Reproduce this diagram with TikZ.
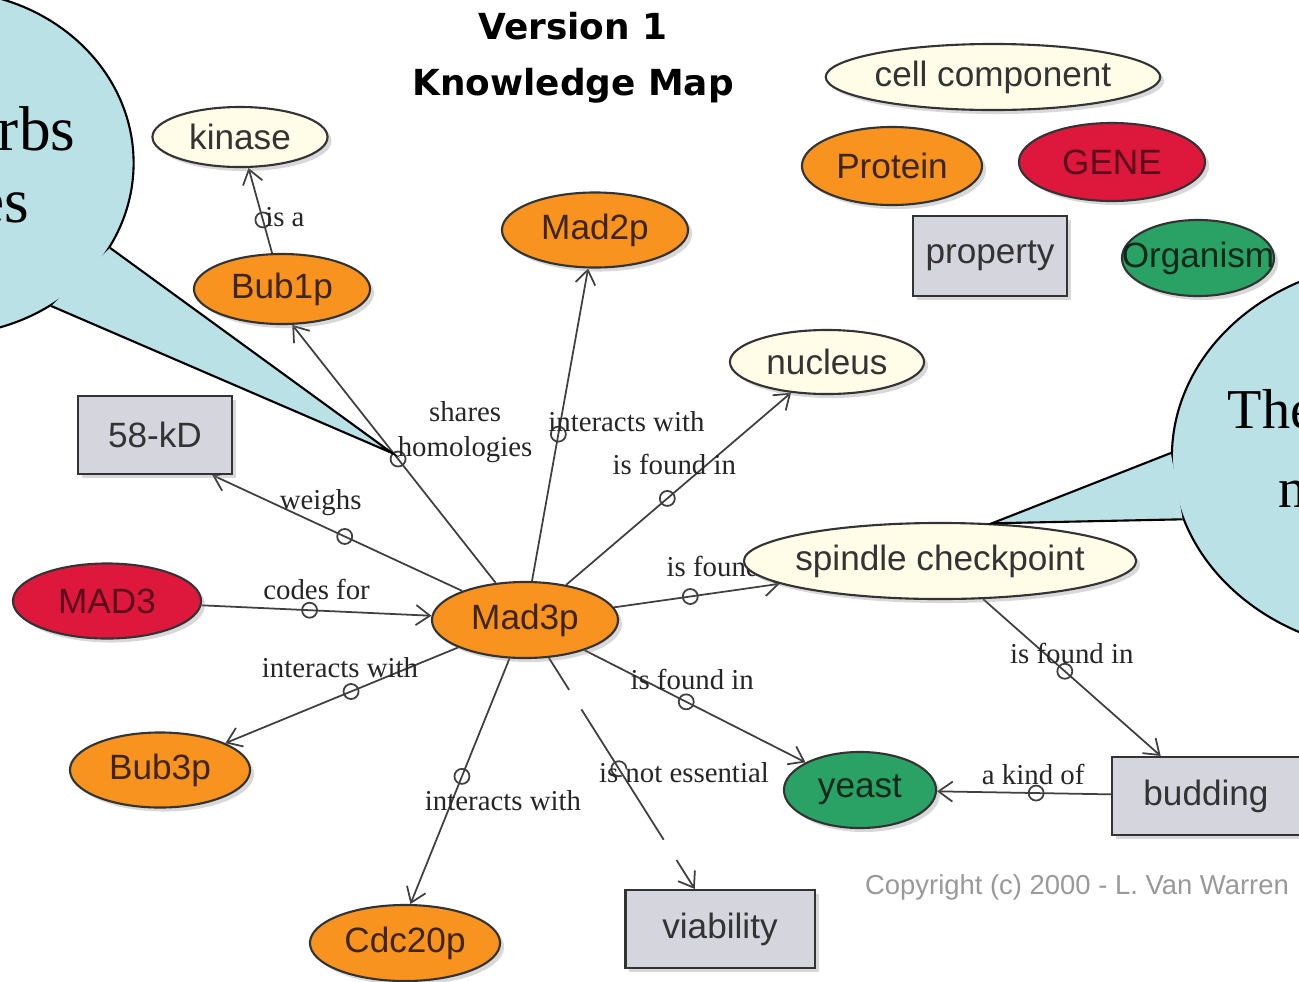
\documentclass[tikz,border=0pt]{standalone}
\usepackage{fontspec}
\setmainfont{Liberation Serif}
\setsansfont{Liberation Sans}
\newfontfamily\titlefont{DejaVu Sans}
\usetikzlibrary{positioning,shapes.geometric,shadows,arrows.meta}

\definecolor{protfill}{RGB}{247,147,30}
\definecolor{genefill}{RGB}{222,24,60}
\definecolor{orgfill}{RGB}{42,162,102}
\definecolor{compfill}{RGB}{255,253,232}
\definecolor{propfill}{RGB}{213,213,221}
\definecolor{notefill}{RGB}{186,225,229}

\pgfdeclarelayer{links}
\pgfdeclarelayer{notes}
\pgfsetlayers{links,main,notes}

\begin{document}
\begin{tikzpicture}[
  x=0.01cm, y=-0.01cm,
  concept/.style={draw=black!80, line width=0.6pt, inner sep=0pt, font=\sffamily\fontsize{10}{12}\selectfont,
    drop shadow={shadow xshift=0.04cm, shadow yshift=-0.04cm, opacity=0.3}},
  protein/.style={concept, ellipse, fill=protfill, text=protfill!25!black},
  gene/.style={concept, ellipse, fill=genefill, text=genefill!40!black},
  organism/.style={concept, ellipse, fill=orgfill, text=orgfill!25!black},
  component/.style={concept, ellipse, fill=compfill, text=black!80},
  property/.style={concept, rectangle, fill=propfill, text=black!80},
  link/.style={draw=black!75, line width=0.5pt, ->},
  knob/.style={circle, draw=black!75, line width=0.5pt, minimum size=0.15cm, inner sep=0pt},
  verb/.style={font=\fontsize{8.2}{10}\selectfont, text=black!85, inner sep=0pt, align=center},
  note/.style={ellipse, draw=black, line width=0.6pt, fill=notefill, inner sep=0pt},
  notetext/.style={inner sep=0pt, text=black},
  >={Straight Barb[length=1.4mm, width=2mm]}
]
\useasboundingbox (0,0) rectangle (1299,981);

% Title and copyright
\node[font=\titlefont\bfseries\fontsize{10.2}{16}\selectfont, align=center] (title) at (573,58) {Version 1\\Knowledge Map};
\node[font=\sffamily\fontsize{7.8}{9}\selectfont, text=black!40] (copy) at (1077,887) {Copyright (c) 2000 - L. Van Warren};

% Legend
\node[component, minimum width=3.34cm, minimum height=0.66cm] (cellc) at (993,77) {cell component};
\node[protein, minimum width=1.80cm, minimum height=0.78cm] (prot) at (892,166) {Protein};
\node[gene, minimum width=1.86cm, minimum height=0.78cm] (gene) at (1112,162) {GENE};
\node[property, minimum width=1.54cm, minimum height=0.80cm] (prop) at (990,256) {property};
\node[organism, inner xsep=-6.5pt, minimum width=1.52cm, minimum height=0.76cm] (org) at (1198,258) {Organism};

% Concepts
\node[protein, minimum width=1.86cm, minimum height=0.76cm] (mad3p) at (525,620) {Mad3p};
\node[component, minimum width=1.75cm, minimum height=0.60cm] (kinase) at (240,137) {kinase};
\node[protein, minimum width=1.76cm, minimum height=0.70cm] (bub1) at (282,289) {Bub1p};
\node[protein, minimum width=1.86cm, minimum height=0.75cm] (mad2) at (595,230) {Mad2p};
\node[component, minimum width=1.94cm, minimum height=0.64cm] (nucleus) at (827,362) {nucleus};
\node[property, minimum width=1.54cm, minimum height=0.78cm] (kd) at (155,435) {58-kD};
\node[component, inner xsep=-2pt, minimum width=3.92cm, minimum height=0.76cm] (spin) at (940,561) {spindle checkpoint};
\node[gene, minimum width=1.88cm, minimum height=0.75cm] (mad3) at (107,601) {MAD3};
\node[protein, minimum width=1.80cm, minimum height=0.75cm] (bub3) at (160,770) {Bub3p};
\node[organism, minimum width=1.52cm, minimum height=0.76cm] (yeast) at (860,790) {yeast};
\node[property, minimum width=1.88cm, minimum height=0.78cm] (bud) at (1206,796) {budding};
\node[protein, minimum width=1.90cm, minimum height=0.76cm] (cdc20) at (405,943) {Cdc20p};
\node[property, minimum width=1.89cm, minimum height=0.78cm] (viab) at (720,929) {viability};

% Links (drawn under the concepts)
\begin{pgfonlayer}{links}
\fill[white] (0,0) rectangle (1299,981);
\draw[link] (bub1) -- node[knob, pos=.39] (k1) {} node[verb, pos=.39, xshift=.22cm, yshift=.03cm] (l1) {is a} (kinase);
\draw[link] (mad3p) -- node[knob, pos=.48] (k2) {} node[verb, pos=.48, xshift=.67cm, yshift=.27cm] (l2) {shares\\homologies} (bub1.-74);
\draw[link] (mad3p) -- node[knob, pos=.47] (k3) {} node[verb, pos=.47, xshift=.68cm, yshift=.12cm] (l3) {interacts with} (mad2);
\draw[link] (mad3p) -- node[knob, pos=.45] (k4) {} node[verb, pos=.45, xshift=.07cm, yshift=.34cm] (l4) {is found in} (nucleus);
\draw[link] (mad3p) -- node[knob, pos=.47] (k5) {} node[verb, pos=.47, xshift=-.24cm, yshift=.34cm] (l5) {weighs} (kd.-35);
\draw[link] (mad3) -- node[knob, pos=.47] (k6) {} node[verb, pos=.47, xshift=.07cm, yshift=.21cm] (l6) {codes for} (mad3p);
\draw[link] (mad3p) -- node[knob, pos=.46] (k7) {} node[verb, pos=.46, xshift=.38cm, yshift=.30cm] (l7) {is found in} (spin);
\draw[link] (mad3p) -- node[knob, pos=.46] (k8) {} node[verb, pos=.46, xshift=-.11cm, yshift=.24cm] (l8) {interacts with} (bub3);
\draw[link] (mad3p) -- node[knob, pos=.48] (k9) {} node[verb, pos=.48, xshift=.41cm, yshift=-.24cm] (l9) {interacts with} (cdc20.82);
\draw[link, dash pattern=on .38cm off .23cm on 1.54cm off .24cm on .4cm off .2cm] (mad3p) -- node[knob, pos=.48] (k10) {} node[verb, pos=.48, xshift=.65cm, yshift=-.04cm] (l10) {is not essential} (viab);
\draw[link] (mad3p) -- node[knob, pos=.46] (k11) {} node[verb, pos=.46, xshift=.06cm, yshift=.22cm] (l11) {is found in} (yeast);
\draw[link] (spin) -- node[knob, pos=.46] (k12) {} node[verb, pos=.46, xshift=.07cm, yshift=.18cm] (l12) {is found in} (bud);
\draw[link] (bud) -- node[knob, pos=.43] (k13) {} node[verb, pos=.43, xshift=-.03cm, yshift=.19cm] (l13) {a kind of} (yeast);
\end{pgfonlayer}

% Speech bubbles cut by the page edge
\begin{pgfonlayer}{notes}
\node[note, minimum width=3.8cm, minimum height=3.44cm] (noteL) at (-56.5,163) {};
\coordinate (tipL) at (k2.north west);
\fill[notefill] (noteL.-27) -- (tipL) -- (noteL.-53) -- cycle;
\draw[line width=0.6pt] (noteL.-27) -- (tipL) -- (noteL.-53);
\node[notetext, font=\fontsize{18}{20}\selectfont, anchor=base east] (noteLa) at (76,150) {rbs};
\node[notetext, font=\fontsize{18}{20}\selectfont, anchor=base east] (noteLb) at (30,222) {es};

\node[note, minimum width=4.56cm, minimum height=3.9cm] (noteR) at (1400,457) {};
\coordinate (tipR) at (spin.36);
\fill[notefill] (noteR.179) -- (tipR) -- (noteR.196) -- cycle;
\draw[line width=0.6pt] (noteR.179) -- (tipR) -- (noteR.196);
\node[notetext, font=\fontsize{16}{18}\selectfont, anchor=base west] (noteRa) at (1227,428) {The};
\node[notetext, font=\fontsize{16}{18}\selectfont, anchor=base west] (noteRb) at (1278,507) {n};
\end{pgfonlayer}
\end{tikzpicture}
\end{document}
